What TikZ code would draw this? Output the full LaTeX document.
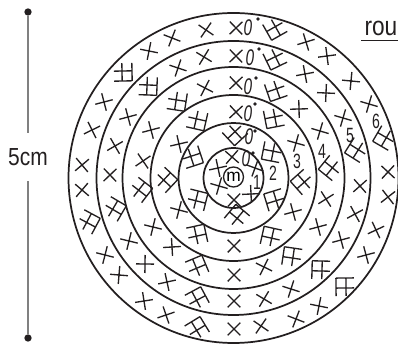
\documentclass[tikz,border=0pt]{standalone}
\usepackage{fontspec}
\setmainfont{Liberation Sans}
\definecolor{inkdark}{HTML}{231F20}
\tikzset{
	roundnum/.style={font=\fontsize{15.5}{15.5}\selectfont,xscale=0.68,transform shape,inner sep=0pt,text=inkdark},
	zerost/.style={font=\fontsize{17}{17}\selectfont\itshape,xscale=0.68,transform shape,inner sep=0pt,text=inkdark},
	crossst/.pic={\draw[inkdark,line width=1pt,rotate=45] (-9,0) -- (9,0) (0,-9) -- (0,9);},
	fanst/.pic={\draw[inkdark,line width=1pt,rotate=-45,shift={(-9,-9)}] (0,0) -- (18,0) (0,0) -- (0,18) (0,10) -- (18,10) (10,0) -- (10,18);}
}
\begin{document}
\begin{tikzpicture}[x=0.75pt,y=0.75pt]
	\useasboundingbox (0,0) rectangle (398,345);
	\coordinate (c) at (233.5,167);
	% scale bar
	\node[circle,fill=inkdark,inner sep=0pt,minimum size=5.5pt] (top) at (28,333) {};
	\node[circle,fill=inkdark,inner sep=0pt,minimum size=5.5pt] (bot) at (28,7) {};
	\node[font=\fontsize{18.5}{18.5}\selectfont,xscale=0.85,transform shape,text=inkdark,inner sep=0pt,minimum height=36pt] (len) at (28,188) {5cm};
	\draw[gray,line width=1.2pt] (top) -- (len.north);
	\draw[gray,line width=1.2pt] (len.south) -- (bot);
	% rounds
	\foreach \r in {30,55,83,111,137,165}
		\draw[inkdark,line width=1.3pt] (c) circle [radius=\r];
	\node[circle,draw=inkdark,line width=1pt,inner sep=0pt,minimum size=15pt,font=\fontsize{13}{13}\selectfont] (m) at (233.5,168) {m};
	% single stitches
	\foreach \x/\y [evaluate=\x as \ang using {atan2(178-\y,\x-233.5)}] in {
		172/38,149/51,104/102,92/130,82/165,82/190,105/255,119/275,144/301,166/315,
		206/30,236/28,306/42,327/56,351/81,369/104,388/172,388/197,376/230,366/255,
		319/306,296/319,261/326,234/329,
		178/68,128/117,115/146,110/175,129/241,145/264,167/282,204/57,236/56,305/74,
		326/93,343/118,360/186,355/214,341/240,291/289,264/299,234/301,
		151/130,143/161,153/227,172/247,205/88,236/83,299/109,320/131,326/199,318/227,
		264/267,234/275,
		179/144,179/210,236/112,296/143,293/212,234/246,
		232/157,255/168,218/168,219/186,251/194,234/200}
		\pic[rotate=\ang] at (\x,345-\y) {crossst};
	% increases
	\foreach \x/\y [evaluate=\x as \ang using {atan2(178-\y,\x-233.5)}] in {
		123/72,275/28,385/138,88/222,197/329,345/287,
		148/86,275/58,357/150,114/209,197/299,321/270,
		177/101,276/90,331/168,140/190,197/267,292/257,
		197/120,274/118,303/182,165/180,197/235,271/237,
		235/133,272/152,192/157,197/200,275/200,237/217}
		\pic[rotate=\ang] at (\x,345-\y) {fanst};
	% chain marks
	\foreach \x/\y/\dx/\dy [count=\i] in {248/28/258/19,250/58/259/49,248/87/256/78,248/114/255/104,249/137/255/131,246/159/253/153} {
		\node[zerost] (zero\i) at (\x,345-\y) {0};
		\fill[inkdark] (\dx,345-\dy) circle [radius=1.8];
	}
	% round numbers
	\foreach \x/\y/\t in {257/182/1,273/173/2,297/161/3,322/151/4,350/135/5,376/121/6}
		\node[roundnum] (num\t) at (\x,345-\y) {\t};
	\node[font=\fontsize{20}{20}\selectfont,xscale=0.85,transform shape,anchor=base east,inner sep=0pt,text=inkdark] (rou) at (397.5,309) {rou};
	\coordinate (ruleL) at (361,305);
	\coordinate (ruleR) at (398,305);
	\draw[inkdark,line width=0.7pt] (ruleL) -- (ruleR);
\end{tikzpicture}
\end{document}
